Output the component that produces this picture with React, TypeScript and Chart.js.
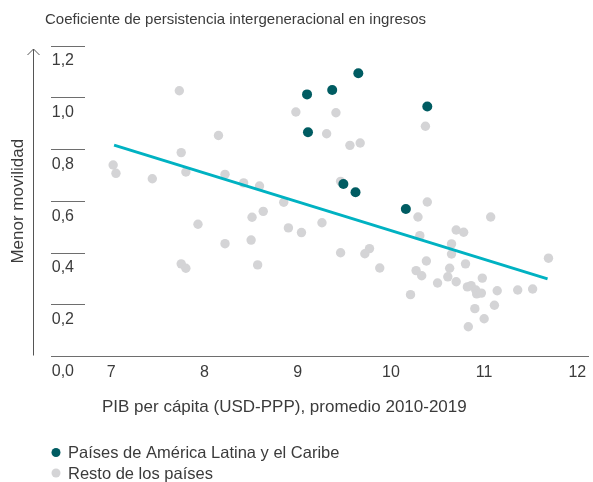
import React, { useEffect, useRef } from 'react';
import { Chart, registerables } from 'chart.js';

Chart.register(...registerables);

const FONT = '"Liberation Sans", Arial, Helvetica, sans-serif';
const TEXT_COLOR = '#3b3b3b';
const AXIS_COLOR = '#6e6e6e';
const LAC_COLOR = '#005c62';
const REST_COLOR = '#d4d4d6';
const TREND_COLOR = '#00b2c2';

const chartTitle = 'Coeficiente de persistencia intergeneracional en ingresos';
const yAxisTitle = 'Menor movilidad';
const xAxisTitle = 'PIB per cápita (USD-PPP), promedio 2010-2019';
const seriesLabels = ['Países de América Latina y el Caribe', 'Resto de los países'];

const xTicks = [7, 8, 9, 10, 11, 12];
const yTicks = [0, 0.2, 0.4, 0.6, 0.8, 1.0, 1.2];
const yTickLabels = ['0,0', '0,2', '0,4', '0,6', '0,8', '1,0', '1,2'];

// Países de América Latina y el Caribe
const lacX = [9.10, 9.37, 9.65, 10.39, 9.11, 9.49, 9.62, 10.16];
const lacY = [1.013, 1.030, 1.095, 0.966, 0.867, 0.667, 0.635, 0.570];

// Resto de los países
const restX = [
  7.73, 8.98, 9.41, 10.37, 9.31, 8.15, 9.56, 9.67, 7.75, 7.02,
  7.05, 7.44, 7.80, 8.22, 8.42, 8.59, 9.46, 8.85, 8.63, 8.51,
  7.93, 9.26, 8.90, 9.04, 8.22, 8.50, 9.46, 7.75, 7.80, 8.57,
  10.39, 10.29, 11.07, 10.70, 10.78, 10.31, 10.65, 10.65, 9.77, 9.72,
  9.88, 10.38, 10.80, 10.27, 10.33, 10.63, 10.61, 10.70, 10.98, 10.50,
  10.82, 10.86, 10.91, 10.92, 10.97, 11.14, 11.36, 11.52, 11.69, 10.21,
  10.90, 11.11, 11.00, 10.83,
];
const restY = [
  1.027, 0.945, 0.942, 0.890, 0.861, 0.854, 0.816, 0.825, 0.788, 0.740,
  0.708, 0.687, 0.713, 0.704, 0.671, 0.659, 0.677, 0.596, 0.561, 0.538,
  0.511, 0.517, 0.497, 0.479, 0.436, 0.450, 0.401, 0.358, 0.341, 0.354,
  0.597, 0.539, 0.539, 0.489, 0.480, 0.467, 0.435, 0.396, 0.417, 0.397,
  0.342, 0.369, 0.358, 0.332, 0.312, 0.341, 0.308, 0.289, 0.303, 0.284,
  0.269, 0.274, 0.257, 0.242, 0.245, 0.254, 0.257, 0.261, 0.380, 0.239,
  0.185, 0.198, 0.146, 0.115,
];

// Línea de tendencia
const trendX = [7.03, 11.68];
const trendY = [0.817, 0.300];

const toPoints = (xs: number[], ys: number[]) => xs.map((x, i) => ({ x, y: ys[i] }));

const decorPlugin = {
  id: 'decor',
  afterDraw(chart: any) {
    const ctx = chart.ctx as CanvasRenderingContext2D;
    const yScale = chart.scales.y;
    ctx.save();
    ctx.fillStyle = TEXT_COLOR;
    ctx.textAlign = 'left';
    ctx.textBaseline = 'middle';

    // Chart title
    ctx.font = `15px ${FONT}`;
    ctx.fillText(chartTitle, 45, 20);

    // X axis title
    ctx.font = `17px ${FONT}`;
    ctx.fillText(xAxisTitle, 102, 407);

    // Vertical arrow
    const ax = 33.5;
    const yTop = yScale.getPixelForValue(yTicks[yTicks.length - 1]) + 3;
    const yBot = yScale.getPixelForValue(yTicks[0]) - 1;
    ctx.strokeStyle = '#555555';
    ctx.lineWidth = 1;
    ctx.beginPath();
    ctx.moveTo(ax, yBot);
    ctx.lineTo(ax, yTop);
    ctx.moveTo(ax - 6, yTop + 6);
    ctx.lineTo(ax, yTop);
    ctx.lineTo(ax + 6, yTop + 6);
    ctx.stroke();

    // Legend
    ctx.font = `16.5px ${FONT}`;
    const legendSets = [chart.data.datasets[0], chart.data.datasets[1]];
    legendSets.forEach((ds: any, i: number) => {
      const cy = 452.5 + i * 20.5;
      ctx.fillStyle = ds.backgroundColor;
      ctx.beginPath();
      ctx.arc(56, cy, 4.5, 0, Math.PI * 2);
      ctx.fill();
      ctx.fillStyle = TEXT_COLOR;
      ctx.fillText(ds.label, 68, cy + 1);
    });
    ctx.restore();
  },
};

export default function App() {
  const canvasRef = useRef<HTMLCanvasElement | null>(null);

  useEffect(() => {
    if (!canvasRef.current) return;
    Chart.defaults.font.family = FONT;
    Chart.defaults.color = TEXT_COLOR;

    const chart = new Chart(canvasRef.current, {
      type: 'scatter',
      data: {
        datasets: [
          {
            label: seriesLabels[0],
            data: toPoints(lacX, lacY),
            backgroundColor: LAC_COLOR,
            borderWidth: 0,
            pointRadius: 5,
            order: 0,
          },
          {
            label: seriesLabels[1],
            data: toPoints(restX, restY),
            backgroundColor: REST_COLOR,
            borderWidth: 0,
            pointRadius: 4.7,
            order: 2,
          },
          {
            type: 'line',
            label: 'Tendencia',
            data: toPoints(trendX, trendY),
            borderColor: TREND_COLOR,
            backgroundColor: TREND_COLOR,
            borderWidth: 3,
            pointRadius: 0,
            showLine: true,
            fill: false,
            order: 1,
          } as any,
        ],
      },
      options: {
        responsive: false,
        animation: false,
        events: [],
        layout: { padding: { top: 46, left: 0, right: 0, bottom: 65.5 } },
        plugins: {
          legend: { display: false },
          tooltip: { enabled: false },
          title: { display: false },
        },
        scales: {
          x: {
            type: 'linear',
            min: 6.718,
            max: 12.114,
            afterBuildTicks: (s: any) => {
              s.ticks = xTicks.map((v) => ({ value: v }));
            },
            afterFit: (s: any) => {
              s.height = 60;
            },
            grid: { display: false, drawTicks: false },
            border: { display: true, color: AXIS_COLOR, width: 1 },
            ticks: {
              padding: 6,
              font: { size: 16 },
              color: TEXT_COLOR,
              callback: (v: any) => String(v),
            },
          },
          y: {
            type: 'linear',
            min: 0,
            max: 1.2,
            afterBuildTicks: (s: any) => {
              s.ticks = yTicks.map((v) => ({ value: v }));
            },
            afterFit: (s: any) => {
              s.width = 85;
            },
            grid: {
              display: true,
              drawOnChartArea: false,
              drawTicks: true,
              tickLength: 34,
              color: AXIS_COLOR,
              lineWidth: 1,
            },
            border: { display: false },
            ticks: {
              padding: -23,
              labelOffset: 15,
              crossAlign: 'near',
              font: { size: 16 },
              color: TEXT_COLOR,
              callback: (v: any) => {
                const idx = yTicks.findIndex((t) => Math.abs(t - Number(v)) < 1e-6);
                return idx >= 0 ? yTickLabels[idx] : '';
              },
            },
            title: {
              display: true,
              text: yAxisTitle,
              font: { size: 17 },
              color: TEXT_COLOR,
              padding: { top: 8, bottom: 0 },
            },
          },
        },
      },
      plugins: [decorPlugin],
    } as any);

    return () => chart.destroy();
  }, []);

  return (
    <div style={{ position: 'fixed', left: 0, top: 0, width: 593, height: 482, background: '#ffffff' }}>
      <canvas ref={canvasRef} width={593} height={482} style={{ display: 'block' }} />
    </div>
  );
}
